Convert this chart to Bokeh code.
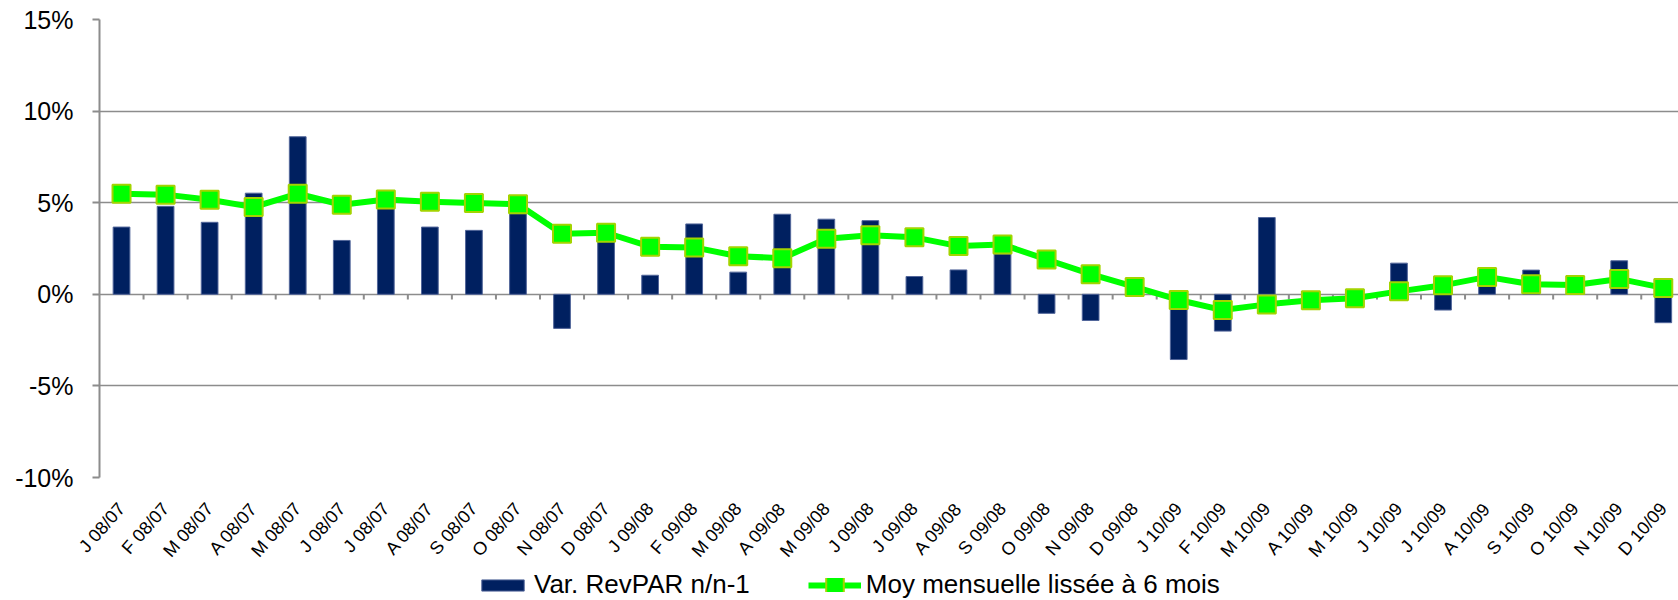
from bokeh.plotting import figure
from bokeh.layouts import column
from bokeh.models import Range1d, FixedTicker, PrintfTickFormatter, Legend, LegendItem
from bokeh.embed import file_html
from bokeh.resources import INLINE

months = ["J 08/07", "F 08/07", "M 08/07", "A 08/07", "M 08/07", "J 08/07",
          "J 08/07", "A 08/07", "S 08/07", "O 08/07", "N 08/07", "D 08/07",
          "J 09/08", "F 09/08", "M 09/08", "A 09/08", "M 09/08", "J 09/08",
          "J 09/08", "A 09/08", "S 09/08", "O 09/08", "N 09/08", "D 09/08",
          "J 10/09", "F 10/09", "M 10/09", "A 10/09", "M 10/09", "J 10/09",
          "J 10/09", "A 10/09", "S 10/09", "O 10/09", "N 10/09", "D 10/09"]

var_revpar = [3.67, 4.8, 3.93, 5.52, 8.6, 2.94, 4.7, 3.67, 3.49, 4.4, -1.86, 3.0,
              1.04, 3.84, 1.21, 4.37, 4.10, 4.02, 0.97, 1.33, 2.2, -1.04, -1.43, 0.3,
              -3.56, -2.01, 4.19, -0.3, -0.1, 1.70, -0.86, 0.6, 1.32, 0.5, 1.83, -1.55]

moy_lissee = [5.49, 5.44, 5.16, 4.76, 5.49, 4.89, 5.18, 5.05, 4.98, 4.92, 3.31, 3.36,
              2.60, 2.56, 2.08, 1.97, 3.03, 3.22, 3.11, 2.63, 2.72, 1.90, 1.10, 0.40,
              -0.31, -0.86, -0.55, -0.33, -0.22, 0.16, 0.49, 0.95, 0.55, 0.51, 0.84, 0.35]

y_ticks = [-10, -5, 0, 5, 10, 15]

xs = list(range(len(months)))
bounds = [i + 0.5 for i in xs[:-1]]

FONT = "Liberation Sans"
GRID = "#8c8c8c"
NAVY = "#002060"
NAVY_EDGE = "#52669a"
GREEN = "#00ff00"
GREEN_EDGE = "#a3d400"

W = 1678
H1, H2 = 570, 30
BL, BT = 99, 19
BB = H1 - 477
cat_px = 44.05
frame_w = W - BL
x_end = -0.5 + frame_w / cat_px

p = figure(width=W, height=H1, output_backend="svg", toolbar_location=None,
           x_range=Range1d(-0.5, x_end), y_range=Range1d(-10, 15),
           min_border_left=BL, min_border_top=BT, min_border_right=0, min_border_bottom=BB)
p.outline_line_color = None
p.background_fill_color = "white"
p.border_fill_color = "white"

# y axis
p.yaxis.ticker = FixedTicker(ticks=y_ticks)
p.yaxis.formatter = PrintfTickFormatter(format="%d%%")
p.yaxis.axis_line_color = GRID
p.yaxis.axis_line_width = 2
p.yaxis.major_tick_line_color = GRID
p.yaxis.major_tick_line_width = 2
p.yaxis.major_tick_out = 7
p.yaxis.major_tick_in = 0
p.yaxis.minor_tick_line_color = None
p.yaxis.major_label_text_font = FONT
p.yaxis.major_label_text_font_size = "25px"
p.yaxis.major_label_text_color = "black"
p.yaxis.major_label_standoff = 19

# x axis (labels only)
p.xaxis.ticker = FixedTicker(ticks=xs)
p.xaxis.major_label_overrides = {i: m for i, m in zip(xs, months)}
p.xaxis.axis_line_color = None
p.xaxis.major_tick_line_color = None
p.xaxis.minor_tick_line_color = None
p.xaxis.major_label_orientation = 0.85
p.xaxis.major_label_text_font = FONT
p.xaxis.major_label_text_font_size = "18px"
p.xaxis.major_label_text_color = "black"
p.xaxis.major_label_standoff = 22

p.xgrid.visible = False
p.ygrid.grid_line_color = GRID
p.ygrid.grid_line_width = 1.6

# category ticks on zero line
p.segment(x0=bounds, y0=[0] * len(bounds), x1=bounds, y1=[-0.28] * len(bounds),
          line_color=GRID, line_width=2)

p.vbar(x=xs, top=var_revpar, bottom=0, width=0.38,
       fill_color=NAVY, line_color=NAVY_EDGE, line_width=1)
p.line(xs, moy_lissee, line_color=GREEN, line_width=6)
p.scatter(xs, moy_lissee, marker="square", size=18,
          fill_color=GREEN, line_color=GREEN_EDGE, line_width=2)

# legend strip: a second canvas (its frame is aligned with the chart frame);
# its ranges keep the series out of view so that only the legend swatches show
q = figure(width=W, height=H2, output_backend="svg", toolbar_location=None,
           x_axis_location=None, y_axis_location=None,
           x_range=Range1d(100, 101), y_range=Range1d(100, 101),
           min_border_left=0, min_border_right=0, min_border_top=0, min_border_bottom=0)
q.grid.visible = False
q.outline_line_color = None
q.background_fill_color = "white"
q.border_fill_color = "white"

lg_bar = q.vbar(x=xs, top=var_revpar, bottom=0, width=0.38,
                fill_color=NAVY, line_color=NAVY_EDGE, line_width=1)
lg_line = q.line(xs, moy_lissee, line_color=GREEN, line_width=6)
lg_outer = q.scatter(xs, moy_lissee, marker="square", fill_color=GREEN_EDGE,
                     line_color=GREEN_EDGE, line_width=14, line_join="miter")
lg_inner = q.scatter(xs, moy_lissee, marker="square", fill_color=GREEN,
                     line_color=GREEN, line_width=10, line_join="miter")

legend = Legend(items=[LegendItem(label="Var. RevPAR n/n-1", renderers=[lg_bar]),
                       LegendItem(label="Moy mensuelle lissée à 6 mois",
                                  renderers=[lg_line, lg_outer, lg_inner])],
                location=(377, 0), orientation="horizontal",
                glyph_width=53, glyph_height=14, label_standoff=5, spacing=58,
                padding=0, margin=0, border_line_color=None, background_fill_alpha=0,
                label_text_font=FONT, label_text_font_size="26px", label_text_color="black")
q.add_layout(legend, "center")

layout = column(p, q, spacing=0)
open("out.html", "w").write(file_html(layout, INLINE))
